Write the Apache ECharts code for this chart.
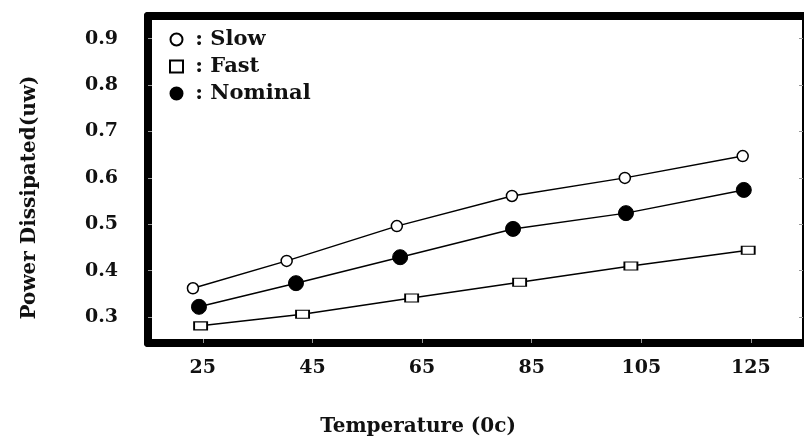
<!DOCTYPE html>
<html>
<head>
<meta charset="utf-8">
<script src="https://cdn.jsdelivr.net/npm/echarts@6/dist/echarts.min.js"></script>
<style>
  html, body { margin: 0; padding: 0; background: #fff; }
  #chart { width: 804px; height: 440px; }
</style>
</head>
<body>
<div id="chart"></div>
<script>
// tick labels
var xTicks = [25, 45, 65, 85, 105, 125];
var yTicks = [0.3, 0.4, 0.5, 0.6, 0.7, 0.8, 0.9];

// temperatures as plotted (markers sit a little off the ticks)
var slowX = [23.2, 40.3, 60.4, 81.4, 102.0, 123.5];
var fastX = [24.6, 43.2, 63.1, 82.8, 103.1, 124.5];
var nominalX = [24.3, 42.0, 61.0, 81.6, 102.2, 123.7];

// power dissipated (uw)
var slowY = [0.362, 0.421, 0.496, 0.561, 0.600, 0.647];
var fastY = [0.281, 0.306, 0.341, 0.375, 0.410, 0.444];
var nominalY = [0.322, 0.373, 0.429, 0.490, 0.524, 0.574];

function pairs(xs, ys) {
	var out = [];
	for (var i = 0; i < xs.length; i++) out.push([xs[i], ys[i]]);
	return out;
}

var font = '"DejaVu Serif", "Liberation Serif", serif';

var chart = echarts.init(document.getElementById('chart'));
var option = {
	animation: false,
	backgroundColor: '#fff',
	grid: { left: 148, right: 1, top: 16, bottom: 97, outerBoundsMode: 'none' },
	legend: {
		orient: 'vertical',
		left: 164,
		top: 24,
		itemWidth: 13,
		itemHeight: 12,
		itemGap: 6,
		formatter: ' : {name}',
		textStyle: { fontFamily: font, fontWeight: 'bold', fontSize: 21, color: '#111' },
		data: [
			{ name: 'Slow', icon: 'circle' },
			{ name: 'Fast', icon: 'rect' },
			{ name: 'Nominal', icon: 'circle' }
		]
	},
	xAxis: [{
		type: 'value',
		min: 15,
		max: 134.5,
		name: 'Temperature (0c)',
		nameLocation: 'middle',
		nameGap: 74,
		nameTextStyle: { fontFamily: font, fontWeight: 'bold', fontSize: 20, color: '#111', padding: [0, 115, 0, 0] },
		axisLine: { show: true, lineStyle: { color: '#000', width: 8 } },
		axisTick: { show: true, inside: true, length: 4, lineStyle: { color: '#999' }, customValues: xTicks },
		axisLabel: { margin: 16, fontFamily: font, fontWeight: 'bold', fontSize: 19, color: '#111', customValues: xTicks },
		splitLine: { show: false }
	}, {
		type: 'value',
		position: 'top',
		min: 15,
		max: 134.5,
		axisLine: { show: true, lineStyle: { color: '#000', width: 8 } },
		axisTick: { show: false },
		axisLabel: { show: false },
		splitLine: { show: false }
	}],
	yAxis: [{
		type: 'value',
		min: 0.244,
		max: 0.949,
		name: 'Power Dissipated(uw)',
		nameLocation: 'middle',
		nameGap: 108,
		nameTextStyle: { fontFamily: font, fontWeight: 'bold', fontSize: 20, color: '#111', padding: [0, 36, 0, 0] },
		axisLine: { show: true, lineStyle: { color: '#000', width: 8 } },
		axisTick: { show: true, inside: true, length: 4, lineStyle: { color: '#999' }, customValues: yTicks },
		axisLabel: { margin: 30, fontFamily: font, fontWeight: 'bold', fontSize: 19, color: '#111', customValues: yTicks, formatter: function(v) { return v.toFixed(1); } },
		splitLine: { show: false }
	}, {
		type: 'value',
		position: 'right',
		min: 0.244,
		max: 0.949,
		axisLine: { show: true, lineStyle: { color: '#000', width: 2 } },
		axisTick: { show: true, inside: true, length: 4, lineStyle: { color: '#999' }, customValues: yTicks },
		axisLabel: { show: false },
		splitLine: { show: false }
	}],
	series: [{
		name: 'Slow',
		type: 'line',
		data: pairs(slowX, slowY),
		symbol: 'circle',
		symbolSize: 11,
		lineStyle: { color: '#000', width: 1.5 },
		itemStyle: { color: '#fff', borderColor: '#000', borderWidth: 1.5 }
	}, {
		name: 'Fast',
		type: 'line',
		data: pairs(fastX, fastY),
		symbol: 'rect',
		symbolSize: [13, 8],
		lineStyle: { color: '#000', width: 1.5 },
		itemStyle: { color: '#fff', borderColor: '#000', borderWidth: 1.5 }
	}, {
		name: 'Nominal',
		type: 'line',
		data: pairs(nominalX, nominalY),
		symbol: 'circle',
		symbolSize: 15,
		lineStyle: { color: '#000', width: 1.5 },
		itemStyle: { color: '#000', borderColor: '#000', borderWidth: 1 }
	}]
};
chart.setOption(option);
</script>
</body>
</html>
